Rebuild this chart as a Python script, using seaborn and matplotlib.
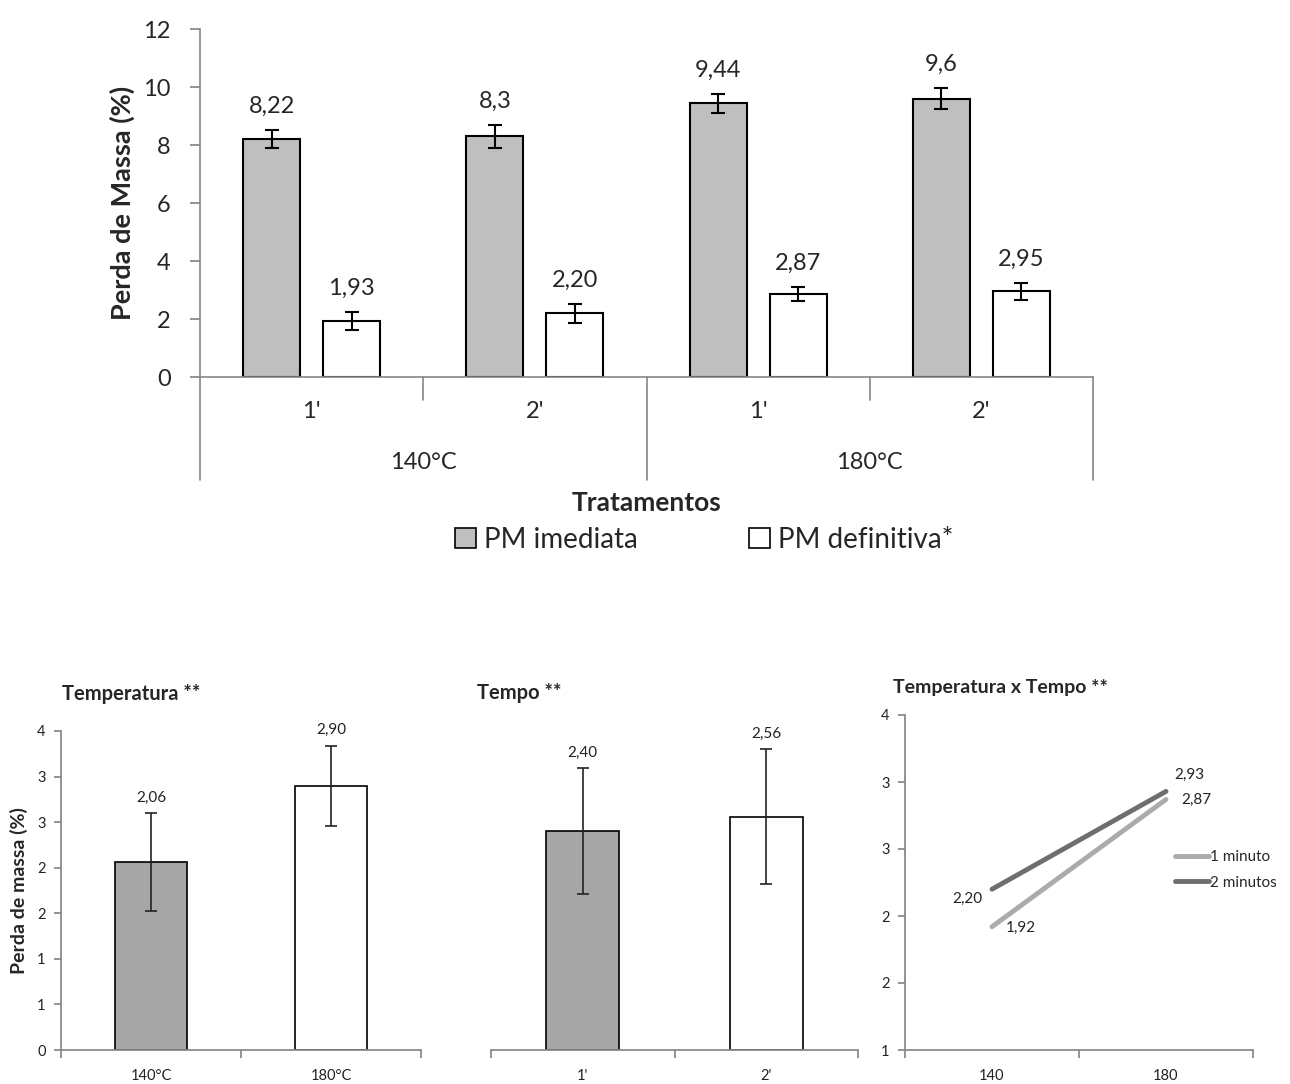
import numpy as np
import pandas as pd
import matplotlib
matplotlib.use('Agg')
import matplotlib.pyplot as plt
import matplotlib.transforms as mtransforms
from matplotlib.patches import Patch
from matplotlib.ticker import FuncFormatter
import seaborn as sns

# Dados - grafico principal
tratamentos = ["140°C 1'", "140°C 2'", "180°C 1'", "180°C 2'"]
tempos = ["1'", "2'", "1'", "2'"]
temperaturas = ['140°C', '180°C']
series = ['PM imediata', 'PM definitiva*']
pm_imediata = [8.22, 8.30, 9.44, 9.60]
pm_imediata_err = [0.31, 0.40, 0.33, 0.36]
pm_definitiva = [1.93, 2.20, 2.87, 2.95]
pm_definitiva_err = [0.31, 0.33, 0.24, 0.28]
rot_imediata = ['8,22', '8,3', '9,44', '9,6']
rot_definitiva = ['1,93', '2,20', '2,87', '2,95']

# Dados - efeito temperatura
temp_cat = ['140°C', '180°C']
temp_val = [2.06, 2.90]
temp_err = [0.54, 0.44]
temp_rot = ['2,06', '2,90']

# Dados - efeito tempo
tempo_cat = ["1'", "2'"]
tempo_val = [2.40, 2.56]
tempo_err = [0.69, 0.74]
tempo_rot = ['2,40', '2,56']

# Dados - interacao
inter_x = ['140', '180']
um_minuto = [1.92, 2.87]
dois_minutos = [2.20, 2.93]

sns.set_theme(style='white')
plt.rcParams['font.family'] = ['Lato', 'DejaVu Sans']

CINZA_EIXO = '#868686'
W, H = 1290, 1084

fig = plt.figure(figsize=(12.9, 10.84), dpi=100)


def px_axes(x0, x1, y0, y1):
    # y0 = topo, y1 = base, em pixels
    return fig.add_axes([x0 / W, 1 - y1 / H, (x1 - x0) / W, (y1 - y0) / H])


def fmt_meio(v, p):
    return f'{int(np.floor(v + 0.5 + 1e-9))}'


# ---------- grafico principal ----------
ax = px_axes(200, 1093, 29, 377)
df = pd.DataFrame({
    'Tratamento': tratamentos * 2,
    'Serie': [series[0]] * 4 + [series[1]] * 4,
    'Valor': pm_imediata + pm_definitiva,
})
sns.barplot(data=df, x='Tratamento', y='Valor', hue='Serie',
            palette=['#bfbfbf', 'white'], edgecolor='black', linewidth=1.5,
            width=0.716, gap=0.285, errorbar=None, legend=False, ax=ax)

for cont, errs, rots in zip(ax.containers, [pm_imediata_err, pm_definitiva_err],
                            [rot_imediata, rot_definitiva]):
    for bar, e, r in zip(cont, errs, rots):
        x = bar.get_x() + bar.get_width() / 2
        y = bar.get_height()
        ax.errorbar(x, y, yerr=e, color='black', capsize=5, elinewidth=1.5,
                    capthick=1.5)
        ax.annotate(r, (x, y + e), xytext=(0, 17), textcoords='offset points',
                    ha='center', va='center', fontsize=17)

ax.set_ylim(0, 12)
ax.set_xlim(-0.5, 3.5)
ax.set_yticks(np.arange(0, 13, 2))
ax.tick_params(axis='y', labelsize=17, left=True, direction='out', length=7,
               color=CINZA_EIXO, pad=14)
ax.set_xticks([])
ax.set_xlabel('')
ax.set_ylabel('Perda de Massa (%)', fontsize=19.5, fontweight='bold')
ax.yaxis.set_label_coords(-0.073, 0.5)
for s in ['top', 'right']:
    ax.spines[s].set_visible(False)
for s in ['left', 'bottom']:
    ax.spines[s].set_color(CINZA_EIXO)
    ax.spines[s].set_linewidth(1.2)

trans = mtransforms.blended_transform_factory(ax.transData, ax.transAxes)
for xb in [-0.5, 0.5, 1.5, 2.5, 3.5]:
    ylow = -0.296 if xb in (-0.5, 1.5, 3.5) else -0.066
    ax.plot([xb, xb], [0, ylow], transform=trans, color=CINZA_EIXO, lw=1.2,
            clip_on=False)
for i, t in enumerate(tempos):
    ax.text(i, -0.10, t, transform=trans, ha='center', va='center', fontsize=17)
for i, t in enumerate(temperaturas):
    ax.text(0.5 + 2 * i, -0.247, t, transform=trans, ha='center', va='center',
            fontsize=17)

fig.text(647 / W, 1 - 503 / H, 'Tratamentos', ha='center', va='center',
         fontsize=19, fontweight='bold')
fig.legend(handles=[Patch(facecolor='#bfbfbf', edgecolor='black', lw=1.2),
                    Patch(facecolor='white', edgecolor='black', lw=1.2)],
           labels=series, loc='center', bbox_to_anchor=(704 / W, 1 - 540 / H),
           ncol=2, frameon=False, fontsize=20, handlelength=0.75,
           handleheight=0.75, handletextpad=0.3, columnspacing=4.0)


# ---------- graficos inferiores ----------
def barras_pequenas(ax, cats, vals, errs, rots, mostra_y):
    sns.barplot(x=cats, y=vals, hue=cats, palette=['#a6a6a6', 'white'],
                edgecolor='black', linewidth=1.2, width=0.4, legend=False, ax=ax)
    for bar, e, r in zip(ax.patches, errs, rots):
        x = bar.get_x() + bar.get_width() / 2
        y = bar.get_height()
        ax.errorbar(x, y, yerr=e, color='#222222', capsize=4, elinewidth=1.2,
                    capthick=1.2)
        ax.annotate(r, (x, y + e), xytext=(0, 11), textcoords='offset points',
                    ha='center', va='center', fontsize=11, color='#222222')
    ax.set_ylim(0, 3.5)
    ax.set_xlim(-0.5, 1.5)
    ax.set_xticks([-0.5, 0.5, 1.5])
    ax.set_xticklabels([])
    ax.set_xticks([0, 1], minor=True)
    ax.set_xticklabels(cats, minor=True)
    ax.tick_params(axis='x', which='major', bottom=True, direction='out',
                   length=6, color=CINZA_EIXO)
    ax.tick_params(axis='x', which='minor', bottom=True, length=0, pad=14,
                   labelsize=10.5, labelcolor='#222222')
    for s in ['top', 'right']:
        ax.spines[s].set_visible(False)
    ax.spines['bottom'].set_color(CINZA_EIXO)
    if mostra_y:
        ax.spines['left'].set_color(CINZA_EIXO)
        ax.set_yticks(np.arange(0, 3.51, 0.5))
        ax.yaxis.set_major_formatter(FuncFormatter(fmt_meio))
        ax.tick_params(axis='y', left=True, direction='out', length=5,
                       color=CINZA_EIXO, labelsize=10.5, labelcolor='#222222',
                       pad=6)
    else:
        ax.spines['left'].set_visible(False)
        ax.set_yticks([])


ax1 = px_axes(61, 421, 731, 1050)
barras_pequenas(ax1, temp_cat, temp_val, temp_err, temp_rot, True)
ax1.set_ylabel('Perda de massa (%)', fontsize=14, fontweight='bold')
ax1.yaxis.set_label_coords(-0.092, 0.5)

ax2 = px_axes(491, 858, 731, 1050)
barras_pequenas(ax2, tempo_cat, tempo_val, tempo_err, tempo_rot, False)

ax3 = px_axes(905, 1253, 715, 1050)
df_lin = pd.DataFrame({
    'Temperatura': inter_x * 2,
    'Valor': um_minuto + dois_minutos,
    'Tempo': ['1 minuto'] * 2 + ['2 minutos'] * 2,
})
sns.lineplot(data=df_lin, x='Temperatura', y='Valor', hue='Tempo',
             palette={'1 minuto': '#ababab', '2 minutos': '#6e6e6e'},
             linewidth=3.5, ax=ax3)
ax3.set_xlim(-0.5, 1.5)
ax3.set_ylim(1, 3.5)
ax3.set_yticks(np.arange(1, 3.51, 0.5))
ax3.yaxis.set_major_formatter(FuncFormatter(fmt_meio))
ax3.set_xticks([-0.5, 0.5, 1.5])
ax3.set_xticklabels([])
ax3.set_xticks([0, 1], minor=True)
ax3.set_xticklabels(inter_x, minor=True)
ax3.tick_params(axis='x', which='major', bottom=True, direction='out',
                length=6, color=CINZA_EIXO)
ax3.tick_params(axis='x', which='minor', bottom=True, length=0, pad=14,
                labelsize=10.5, labelcolor='#222222')
ax3.tick_params(axis='y', left=True, direction='out', length=5,
                color=CINZA_EIXO, labelsize=10.5, labelcolor='#222222', pad=6)
ax3.set_xlabel('')
ax3.set_ylabel('')
for s in ['top', 'right']:
    ax3.spines[s].set_visible(False)
for s in ['left', 'bottom']:
    ax3.spines[s].set_color(CINZA_EIXO)

offs_um = [(21, -1), (22, 0)]
offs_dois = [(-18, -7), (17, 12)]
for i in range(2):
    ax3.annotate(f'{um_minuto[i]:.2f}'.replace('.', ','), (i, um_minuto[i]),
                 xytext=offs_um[i], textcoords='offset points', ha='center',
                 va='center', fontsize=11, color='#222222')
    ax3.annotate(f'{dois_minutos[i]:.2f}'.replace('.', ','), (i, dois_minutos[i]),
                 xytext=offs_dois[i], textcoords='offset points', ha='center',
                 va='center', fontsize=11, color='#222222')

ax3.legend(loc='center left', bbox_to_anchor=(0.776, 0.537), frameon=False,
           borderaxespad=0, borderpad=0, fontsize=11, handlelength=2.2,
           handletextpad=0.1, labelspacing=0.75, title=None)

fig.text(62 / W, 1 - 694 / H, 'Temperatura **', ha='left', va='center',
         fontsize=14.5, fontweight='bold')
fig.text(477 / W, 1 - 693 / H, 'Tempo **', ha='left', va='center',
         fontsize=14.5, fontweight='bold')
fig.text(893 / W, 1 - 688 / H, 'Temperatura x Tempo **', ha='left',
         va='center', fontsize=14, fontweight='bold')

plt.savefig('out.png', dpi=100)
